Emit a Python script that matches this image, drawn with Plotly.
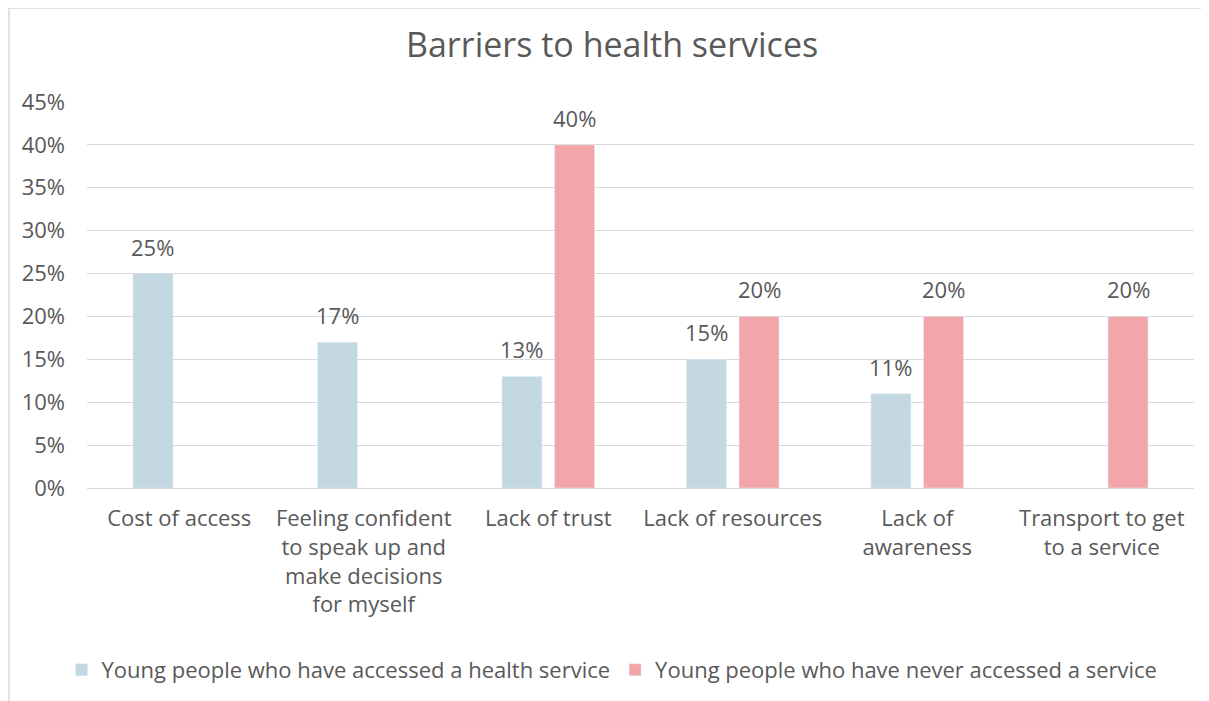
import plotly.graph_objects as go

categories = [
    "Cost of access",
    "Feeling confident<br>to speak up and<br>make decisions<br>for myself",
    "Lack of trust",
    "Lack of resources",
    "Lack of<br>awareness",
    "Transport to get<br>to a service",
]
accessed = [25, 17, 13, 15, 11, None]
never_accessed = [None, None, 40, 20, 20, 20]
series_names = [
    "Young people who have accessed a health service",
    "Young people who have never accessed a service",
]
tick_vals = [0, 5, 10, 15, 20, 25, 30, 35, 40, 45]
tick_text = [f"{v}%" for v in tick_vals]

FONT = "Open Sans"
GREY = "#595959"
BLUE = "#C4D8E2"
PINK = "#F2A6A9"

# figure geometry (the page adds an 8px body margin)
W, H = 1201, 693
ML, MR, MT, MB = 79, 15, 94, 213
BARGAP, BARGROUPGAP = 0.43, 0.24
plot_w = W - ML - MR
plot_h = H - MT - MB
cat_px = plot_w / len(categories)
slot_px = (1 - BARGAP) * cat_px / 2

fig = go.Figure()
for vals, name, color in [(accessed, series_names[0], BLUE),
                          (never_accessed, series_names[1], PINK)]:
    fig.add_trace(go.Bar(x=categories, y=vals, name=name, marker_color=color,
                         hoverinfo="x+y"))

# data labels above each bar
for vals, sign in [(accessed, -1), (never_accessed, 1)]:
    for cat, v in zip(categories, vals):
        if v is None:
            continue
        fig.add_annotation(x=cat, y=v, text=f"{v}%", showarrow=False,
                           xshift=sign * slot_px / 2, yshift=27,
                           yanchor="middle", xanchor="center",
                           font=dict(family=FONT, size=22, color=GREY))

fig.update_layout(
    width=W, height=H,
    paper_bgcolor="white", plot_bgcolor="white",
    barmode="group", bargap=BARGAP, bargroupgap=BARGROUPGAP,
    margin=dict(l=ML, r=MR, t=MT, b=MB, pad=0, autoexpand=False),
    title=dict(text="Barriers to health services", x=0.503, xanchor="center",
               y=1 - 37 / H, yanchor="middle",
               font=dict(family=FONT, size=34, color=GREY)),
    font=dict(family=FONT, size=22, color=GREY),
    showlegend=True,
    legend=dict(orientation="h", x=(604 - ML) / plot_w, xanchor="center",
                y=(plot_h - (662 - MT)) / plot_h, yanchor="middle",
                font=dict(family=FONT, size=22, color=GREY),
                traceorder="normal"),
    xaxis=dict(showline=True, linecolor="#D9D9D9", linewidth=1, ticks="",
               tickangle=0, automargin=False, ticklabelstandoff=11,
               tickfont=dict(family=FONT, size=22, color=GREY)),
    yaxis=dict(range=[0, 45], tickvals=tick_vals, ticktext=tick_text,
               showgrid=True, gridcolor="#D9D9D9", gridwidth=1,
               zeroline=False, showline=False, ticks="", automargin=False,
               ticklabelstandoff=21,
               tickfont=dict(family=FONT, size=22, color=GREY)),
)

# chart-area border (left and top edges visible)
x_left = (1 - ML) / plot_w
x_right = (W - ML) / plot_w
y_top = (plot_h + MT) / plot_h
y_bot = -MB / plot_h
fig.add_shape(type="line", xref="paper", yref="paper",
              x0=x_left, x1=x_left, y0=y_bot, y1=y_top,
              line=dict(color="#D9D9D9", width=1.5))
fig.add_shape(type="line", xref="paper", yref="paper",
              x0=x_left, x1=x_right, y0=y_top, y1=y_top,
              line=dict(color="#D9D9D9", width=1.5))

fig.write_html("out.html")
